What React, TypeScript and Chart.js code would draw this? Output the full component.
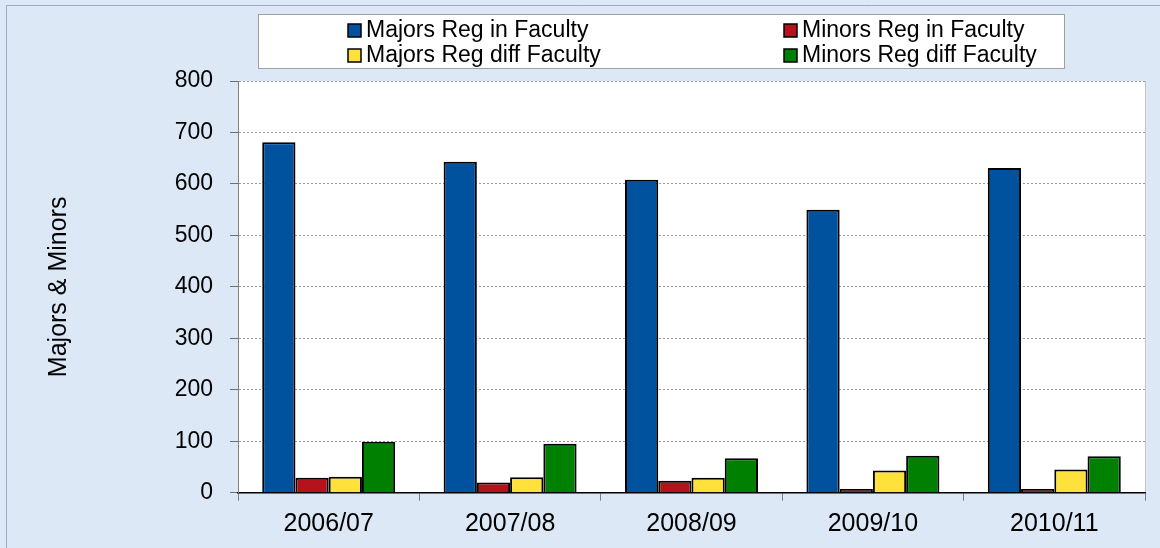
import React, { useEffect, useRef } from "react";
import { Chart, registerables } from "chart.js";

Chart.register(...registerables);

const categories = ["2006/07", "2007/08", "2008/09", "2009/10", "2010/11"];
const seriesNames = [
  "Majors Reg in Faculty",
  "Minors Reg in Faculty",
  "Majors Reg diff Faculty",
  "Minors Reg diff Faculty",
];
const majorsRegInFaculty = [681, 643, 608, 550, 631];
const minorsRegInFaculty = [29, 20, 23, 7, 7];
const majorsRegDiffFaculty = [31, 30, 29, 43, 45];
const minorsRegDiffFaculty = [99, 95, 67, 72, 71];
const seriesColors = ["#00519e", "#b5121b", "#ffe13c", "#008000"];
const yTitle = "Majors & Minors";
const yMin = 0;
const yMax = 800;
const yStep = 100;

const FONT = "'Liberation Sans', Arial, sans-serif";

const backgroundPlugin = {
  id: "bgPlugin",
  beforeDraw(chart: any) {
    const { ctx, width, height, chartArea } = chart;
    ctx.save();
    ctx.fillStyle = "#dce8f5";
    ctx.fillRect(0, 0, width, height);
    // outer frame
    ctx.strokeStyle = "#9aaabf";
    ctx.lineWidth = 1;
    ctx.beginPath();
    ctx.moveTo(6.5, height);
    ctx.lineTo(6.5, 5.5);
    ctx.lineTo(width, 5.5);
    ctx.stroke();
    // plot area
    ctx.fillStyle = "#ffffff";
    ctx.fillRect(chartArea.left, chartArea.top, chartArea.right - chartArea.left, chartArea.bottom - chartArea.top);
    ctx.strokeStyle = "#c8c8c8";
    ctx.beginPath();
    ctx.moveTo(chartArea.right + 0.5, chartArea.top);
    ctx.lineTo(chartArea.right + 0.5, chartArea.bottom);
    ctx.stroke();
    ctx.restore();
  },
};

const legendPlugin = {
  id: "boxLegend",
  afterDraw(chart: any) {
    const { ctx } = chart;
    const box = { x: 258, y: 14, w: 806, h: 54 };
    ctx.save();
    ctx.fillStyle = "#ffffff";
    ctx.fillRect(box.x, box.y, box.w, box.h);
    ctx.strokeStyle = "#a0a0a0";
    ctx.lineWidth = 1;
    ctx.strokeRect(box.x + 0.5, box.y + 0.5, box.w, box.h);
    const colX = [348, 784];
    const rowY = [30, 55];
    ctx.font = `23px ${FONT}`;
    ctx.textBaseline = "middle";
    ctx.textAlign = "left";
    chart.data.datasets.forEach((ds: any, i: number) => {
      const cx = colX[i % 2];
      const cy = rowY[Math.floor(i / 2)];
      ctx.fillStyle = ds.backgroundColor;
      ctx.fillRect(cx, cy - 6, 13, 13);
      ctx.strokeStyle = "#000";
      ctx.lineWidth = 1.5;
      ctx.strokeRect(cx, cy - 6, 13, 13);
      ctx.fillStyle = "#000";
      ctx.fillText(ds.label, cx + 18, cy + 1);
    });
    ctx.restore();
  },
};

export default function App() {
  const canvasRef = useRef<HTMLCanvasElement | null>(null);

  useEffect(() => {
    document.body.style.margin = "0";
    const canvas = canvasRef.current;
    if (!canvas) return;
    const values = [majorsRegInFaculty, minorsRegInFaculty, majorsRegDiffFaculty, minorsRegDiffFaculty];
    const chart = new Chart(canvas, {
      type: "bar",
      data: {
        labels: categories,
        datasets: values.map((v, i) => ({
          label: seriesNames[i],
          data: v,
          backgroundColor: seriesColors[i],
          borderColor: "#000000",
          borderWidth: 2,
          categoryPercentage: 0.733,
          barPercentage: 1.0,
        })),
      },
      options: {
        animation: false,
        responsive: false,
        maintainAspectRatio: false,
        layout: { padding: { left: 0, top: 81, right: 15, bottom: 15 } },
        plugins: {
          legend: { display: false },
          tooltip: { enabled: false },
        },
        scales: {
          x: {
            grid: {
              display: true,
              drawOnChartArea: false,
              drawTicks: true,
              tickLength: 8,
              offset: true,
              color: "#808080",
            },
            border: { display: true, color: "#000000", width: 1.5 },
            ticks: {
              color: "#000000",
              font: { family: FONT, size: 25 },
              padding: 8,
              maxRotation: 0,
            },
            afterFit(scale: any) {
              scale.height = 40.3;
            },
          },
          y: {
            min: yMin,
            max: yMax,
            ticks: {
              stepSize: yStep,
              color: "#000000",
              font: { family: FONT, size: 23 },
              padding: 17,
            },
            grid: {
              color: "#9a9a9a",
              tickColor: "#707070",
              tickLength: 8,
              drawTicks: true,
            },
            border: { display: true, color: "#808080", width: 1, dash: [2, 2] },
            title: {
              display: true,
              text: yTitle,
              color: "#000000",
              font: { family: FONT, size: 25 },
              padding: { top: 44, bottom: 0 },
            },
            afterFit(scale: any) {
              scale.width = 238;
            },
          },
        },
      },
      plugins: [backgroundPlugin, legendPlugin],
    });
    return () => chart.destroy();
  }, []);

  return (
    <div style={{ width: 1160, height: 548 }}>
      <canvas ref={canvasRef} width={1160} height={548} style={{ display: "block" }} />
    </div>
  );
}
